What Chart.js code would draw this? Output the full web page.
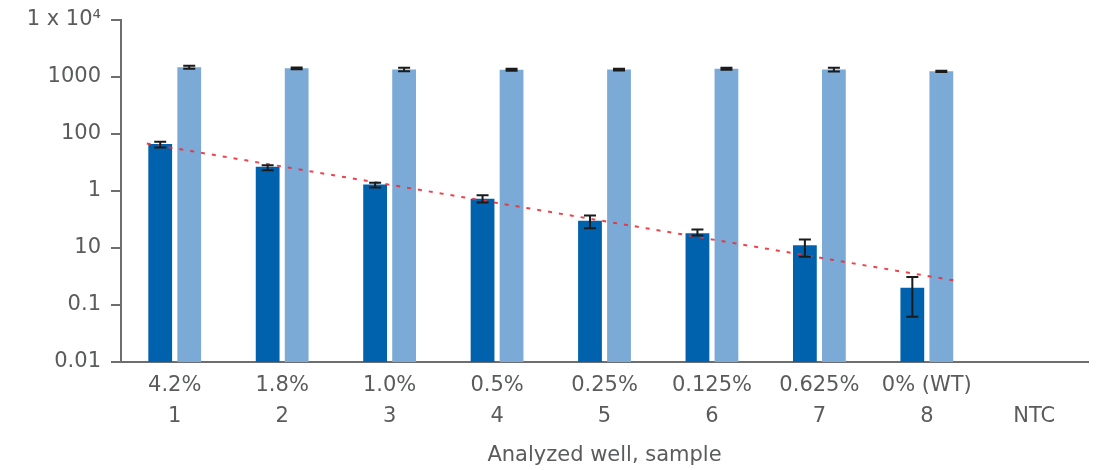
<!DOCTYPE html>
<html>
<head>
<meta charset="utf-8">
<script src="https://cdn.jsdelivr.net/npm/chart.js@4"></script>
<style>
  html, body { margin: 0; padding: 0; background: #fff; }
  #wrap { width: 1102px; height: 470px; position: relative; }
</style>
</head>
<body>
<div id="wrap"><canvas id="wellChart"></canvas></div>
<script>
// ── Data ───────────────────────────────────────────────────────────────────
const wells   = ['1', '2', '3', '4', '5', '6', '7', '8', 'NTC'];
const samples = ['4.2%', '1.8%', '1.0%', '0.5%', '0.25%', '0.125%', '0.625%', '0% (WT)', ''];

// mutant copies (dark) with low/high error limits
const mutVals = [66.5, 26.5, 13.0, 7.3, 3.0, 1.82, 1.12, 0.2, null];
const mutLow  = [58, 23.2, 11.5, 6.3, 2.23, 1.66, 0.70, 0.062, null];
const mutHigh = [73, 28.4, 13.9, 8.4, 3.72, 2.11, 1.41, 0.31, null];

// wild-type copies (light) with low/high error limits
const wtVals = [1480, 1420, 1360, 1340, 1350, 1400, 1350, 1260, null];
const wtLow  = [1390, 1370, 1260, 1290, 1300, 1340, 1250, 1230, null];
const wtHigh = [1570, 1470, 1460, 1390, 1400, 1460, 1460, 1290, null];

// exponential trend through the mutant series (x in well index units)
const trendX = [-0.26, 7.25];
const trendY = [68, 0.27];

const yTicks      = [0.01, 0.1, 1, 10, 100, 1000, 10000];
const yTickLabels = ['0.01', '0.1', '10', '1', '100', '1000', '1 x 10\u2074'];

const TEXT = '#5a5b5d';
const AXIS = '#6d6e70';
const FONT = "'DejaVu Sans', sans-serif";

// ── Trend line + error bars, drawn over the bars ───────────────────────────
const overlays = {
    id: 'overlays',
    afterDatasetsDraw(chart) {
        const { ctx, scales: { x, y } } = chart;
        ctx.save();

        // dashed trend (category scale takes fractional indexes)
        ctx.strokeStyle = 'rgba(233, 48, 56, 0.9)';
        ctx.lineWidth = 2;
        ctx.setLineDash([4, 7]);
        ctx.beginPath();
        trendX.forEach((v, i) => {
            const px = x.getPixelForValue(v);
            const py = y.getPixelForValue(trendY[i]);
            i ? ctx.lineTo(px, py) : ctx.moveTo(px, py);
        });
        ctx.stroke();
        ctx.setLineDash([]);

        // error bars
        ctx.strokeStyle = '#1b1b1b';
        ctx.lineWidth = 2;
        [[0, mutLow, mutHigh], [1, wtLow, wtHigh]].forEach(([di, lo, hi]) => {
            chart.getDatasetMeta(di).data.forEach((bar, i) => {
                if (lo[i] == null) return;
                const bx = bar.x;
                const y1 = y.getPixelForValue(hi[i]);
                const y2 = y.getPixelForValue(lo[i]);
                ctx.beginPath();
                ctx.moveTo(bx, y1); ctx.lineTo(bx, y2);
                ctx.moveTo(bx - 6, y1); ctx.lineTo(bx + 6, y1);
                ctx.moveTo(bx - 6, y2); ctx.lineTo(bx + 6, y2);
                ctx.stroke();
            });
        });
        ctx.restore();
    }
};

// ── Chart ──────────────────────────────────────────────────────────────────
const ctx = document.getElementById('wellChart').getContext('2d');
new Chart(ctx, {
    type: 'bar',
    data: {
        labels: wells.map((w, i) => [samples[i], w]),
        datasets: [
            {
                data: mutVals,
                backgroundColor: '#0062ad',
                borderWidth: 0,
                categoryPercentage: 0.54,
                barPercentage: 0.82
            },
            {
                data: wtVals,
                backgroundColor: '#7baad6',
                borderWidth: 0,
                categoryPercentage: 0.54,
                barPercentage: 0.82
            }
        ]
    },
    options: {
        responsive: true,
        maintainAspectRatio: false,
        animation: false,
        layout: { padding: { top: 20, right: 14, left: 0, bottom: 0 } },
        plugins: {
            legend: { display: false },
            tooltip: { enabled: false }
        },
        scales: {
            x: {
                grid: { display: false, drawTicks: false },
                border: { display: true, color: AXIS, width: 2 },
                ticks: {
                    color: TEXT,
                    padding: 8,
                    maxRotation: 0,
                    autoSkip: false,
                    font: { family: FONT, size: 21, lineHeight: 1.47 }
                },
                title: {
                    display: true,
                    text: 'Analyzed well, sample',
                    color: TEXT,
                    font: { family: FONT, size: 21 },
                    padding: { top: 0, bottom: 2 }
                },
                afterFit: s => { s.height = 108; }
            },
            y: {
                type: 'logarithmic',
                min: 0.01,
                max: 10000,
                grid: { display: true, drawOnChartArea: false, drawTicks: true, tickLength: 10, color: AXIS, lineWidth: 2 },
                border: { display: true, color: AXIS, width: 2 },
                afterBuildTicks: s => { s.ticks = yTicks.map(v => ({ value: v })); },
                afterFit: s => { s.width = 121; s.paddingTop = 0; s.paddingBottom = 0; },
                ticks: {
                    color: TEXT,
                    padding: 10,
                    autoSkip: false,
                    font: { family: FONT, size: 21, lineHeight: 1 },
                    callback: (v, i) => yTickLabels[i]
                }
            }
        }
    },
    plugins: [overlays]
});
</script>
</body>
</html>
